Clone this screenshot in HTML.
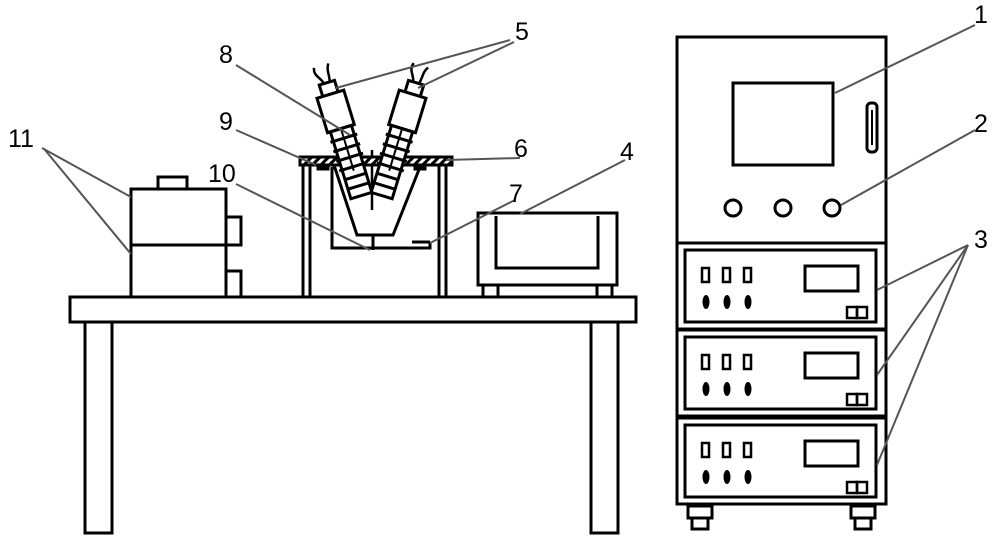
<!DOCTYPE html>
<html><head><meta charset="utf-8"><style>
html,body{margin:0;padding:0;background:#fff}
svg{display:block}
text{font-family:"Liberation Sans",sans-serif;font-size:25px;fill:#000}
</style></head><body>
<svg width="1000" height="544" viewBox="0 0 1000 544" xmlns="http://www.w3.org/2000/svg">
<defs>
<pattern id="h" width="6" height="6" patternUnits="userSpaceOnUse" patternTransform="rotate(45)">
<rect width="6" height="6" fill="#fff"/><rect width="3" height="6" fill="#000"/></pattern>
<g id="probe" stroke="#000" fill="#fff" stroke-width="3">
<path d="M-3 -62 c-2 -8 -8 -10 -5 -18" fill="none" stroke-width="2.5"/>
<path d="M3 -62 c2 -8 0 -12 4 -18" fill="none" stroke-width="2.5"/>
<rect x="-8" y="-62" width="16" height="12"/>
<rect x="-14" y="-50" width="28" height="36"/>
<rect x="-11" y="-14" width="22" height="70"/>
<path d="M-14 -14h28M-14 -4h28M-14 6h28M-14 16h28M-14 26h28M-11 36h22M-11 46h22" stroke-width="3"/>
<line x1="0" y1="-14" x2="0" y2="30" stroke-width="2"/>
</g>
<g id="mod">
<rect x="677" y="0" width="209" height="86" fill="#fff" stroke="#000" stroke-width="3"/>
<rect x="685" y="7" width="191" height="72" fill="none" stroke="#000" stroke-width="3"/>
<rect x="702" y="25" width="7" height="14" fill="none" stroke="#000" stroke-width="2.5"/>
<rect x="723" y="25" width="7" height="14" fill="none" stroke="#000" stroke-width="2.5"/>
<rect x="744" y="25" width="7" height="14" fill="none" stroke="#000" stroke-width="2.5"/>
<ellipse cx="706" cy="59" rx="3.5" ry="7"/><ellipse cx="727" cy="59" rx="3.5" ry="7"/><ellipse cx="748" cy="59" rx="3.5" ry="7"/>
<rect x="805" y="23" width="53" height="25" fill="none" stroke="#000" stroke-width="3"/>
<rect x="847" y="64" width="10" height="11" fill="none" stroke="#000" stroke-width="2.5"/>
<rect x="857" y="64" width="10" height="11" fill="none" stroke="#000" stroke-width="2.5"/>
</g>
</defs>
<g stroke="#000" stroke-width="3" fill="none">
<rect x="70" y="297" width="566" height="25" fill="#fff"/>
<rect x="85" y="322" width="27" height="211"/>
<rect x="591" y="322" width="27" height="211"/>
<rect x="131" y="189" width="95" height="108"/>
<line x1="131" y1="245" x2="226" y2="245"/>
<rect x="158" y="177" width="29" height="12"/>
<rect x="226" y="217" width="15" height="28"/>
<rect x="226" y="271" width="15" height="26"/>
<rect x="303" y="165" width="7" height="132"/>
<rect x="439" y="165" width="7" height="132"/>
<polyline points="332,167 332,248 430,248 430,242"/>
<line x1="412" y1="242" x2="430" y2="242"/>
<polyline points="333,162 357,235 393,235 422,162" fill="#fff"/>
<line x1="373" y1="235" x2="373" y2="250"/>
<line x1="372" y1="150" x2="372" y2="210" stroke-width="2.5"/>
<rect x="300" y="157" width="152" height="8" fill="url(#h)"/>
<rect x="318" y="165" width="10" height="4" fill="#000"/>
<rect x="415" y="165" width="10" height="4" fill="#000"/>
</g>
<use href="#probe" transform="translate(345,142) rotate(-17)"/>
<use href="#probe" transform="translate(398,142) rotate(17)"/>
<g stroke="#000" stroke-width="3" fill="none">
<rect x="478" y="213" width="139" height="72"/>
<polyline points="496,216 496,268 598,268 598,216"/>
<rect x="483" y="285" width="15" height="12"/>
<rect x="597" y="285" width="15" height="12"/>
<rect x="677" y="37" width="209" height="206"/>
<rect x="733" y="83" width="100" height="82"/>
<rect x="867" y="103" width="10" height="49" rx="4"/>
<line x1="872" y1="110" x2="872" y2="145" stroke-width="2"/>
<circle cx="733" cy="208" r="8"/><circle cx="783" cy="208" r="8"/><circle cx="832" cy="208" r="8"/>
</g>
<use href="#mod" y="243"/>
<use href="#mod" y="330"/>
<use href="#mod" y="418"/>
<g stroke="#000" stroke-width="3" fill="#fff">
<rect x="688" y="506" width="24" height="12"/><rect x="692" y="518" width="16" height="11"/>
<rect x="851" y="506" width="24" height="12"/><rect x="855" y="518" width="16" height="11"/>
</g>
<g stroke="#555" stroke-width="2">
<line x1="975" y1="25" x2="835" y2="93"/>
<line x1="975" y1="130" x2="841" y2="205"/>
<line x1="968" y1="245" x2="877" y2="290"/>
<line x1="968" y1="245" x2="877" y2="375"/>
<line x1="968" y1="245" x2="877" y2="465"/>
<line x1="625" y1="160" x2="520" y2="214"/>
<line x1="510" y1="40" x2="336" y2="88"/>
<line x1="514" y1="42" x2="418" y2="88"/>
<line x1="520" y1="158" x2="446" y2="160"/>
<line x1="515" y1="200" x2="430" y2="243"/>
<line x1="236" y1="65" x2="350" y2="135"/>
<line x1="236" y1="130" x2="316" y2="165"/>
<line x1="236" y1="184" x2="370" y2="250"/>
<line x1="42" y1="148" x2="131" y2="197"/>
<line x1="45" y1="150" x2="131" y2="254"/>
</g>
<text x="974" y="23">1</text>
<text x="974" y="132">2</text>
<text x="974" y="248">3</text>
<text x="620" y="160">4</text>
<text x="515" y="40">5</text>
<text x="514" y="157">6</text>
<text x="509" y="202">7</text>
<text x="219" y="63">8</text>
<text x="219" y="130">9</text>
<text x="208" y="182">10</text>
<text x="8" y="147">11</text>
</svg>
</body></html>
